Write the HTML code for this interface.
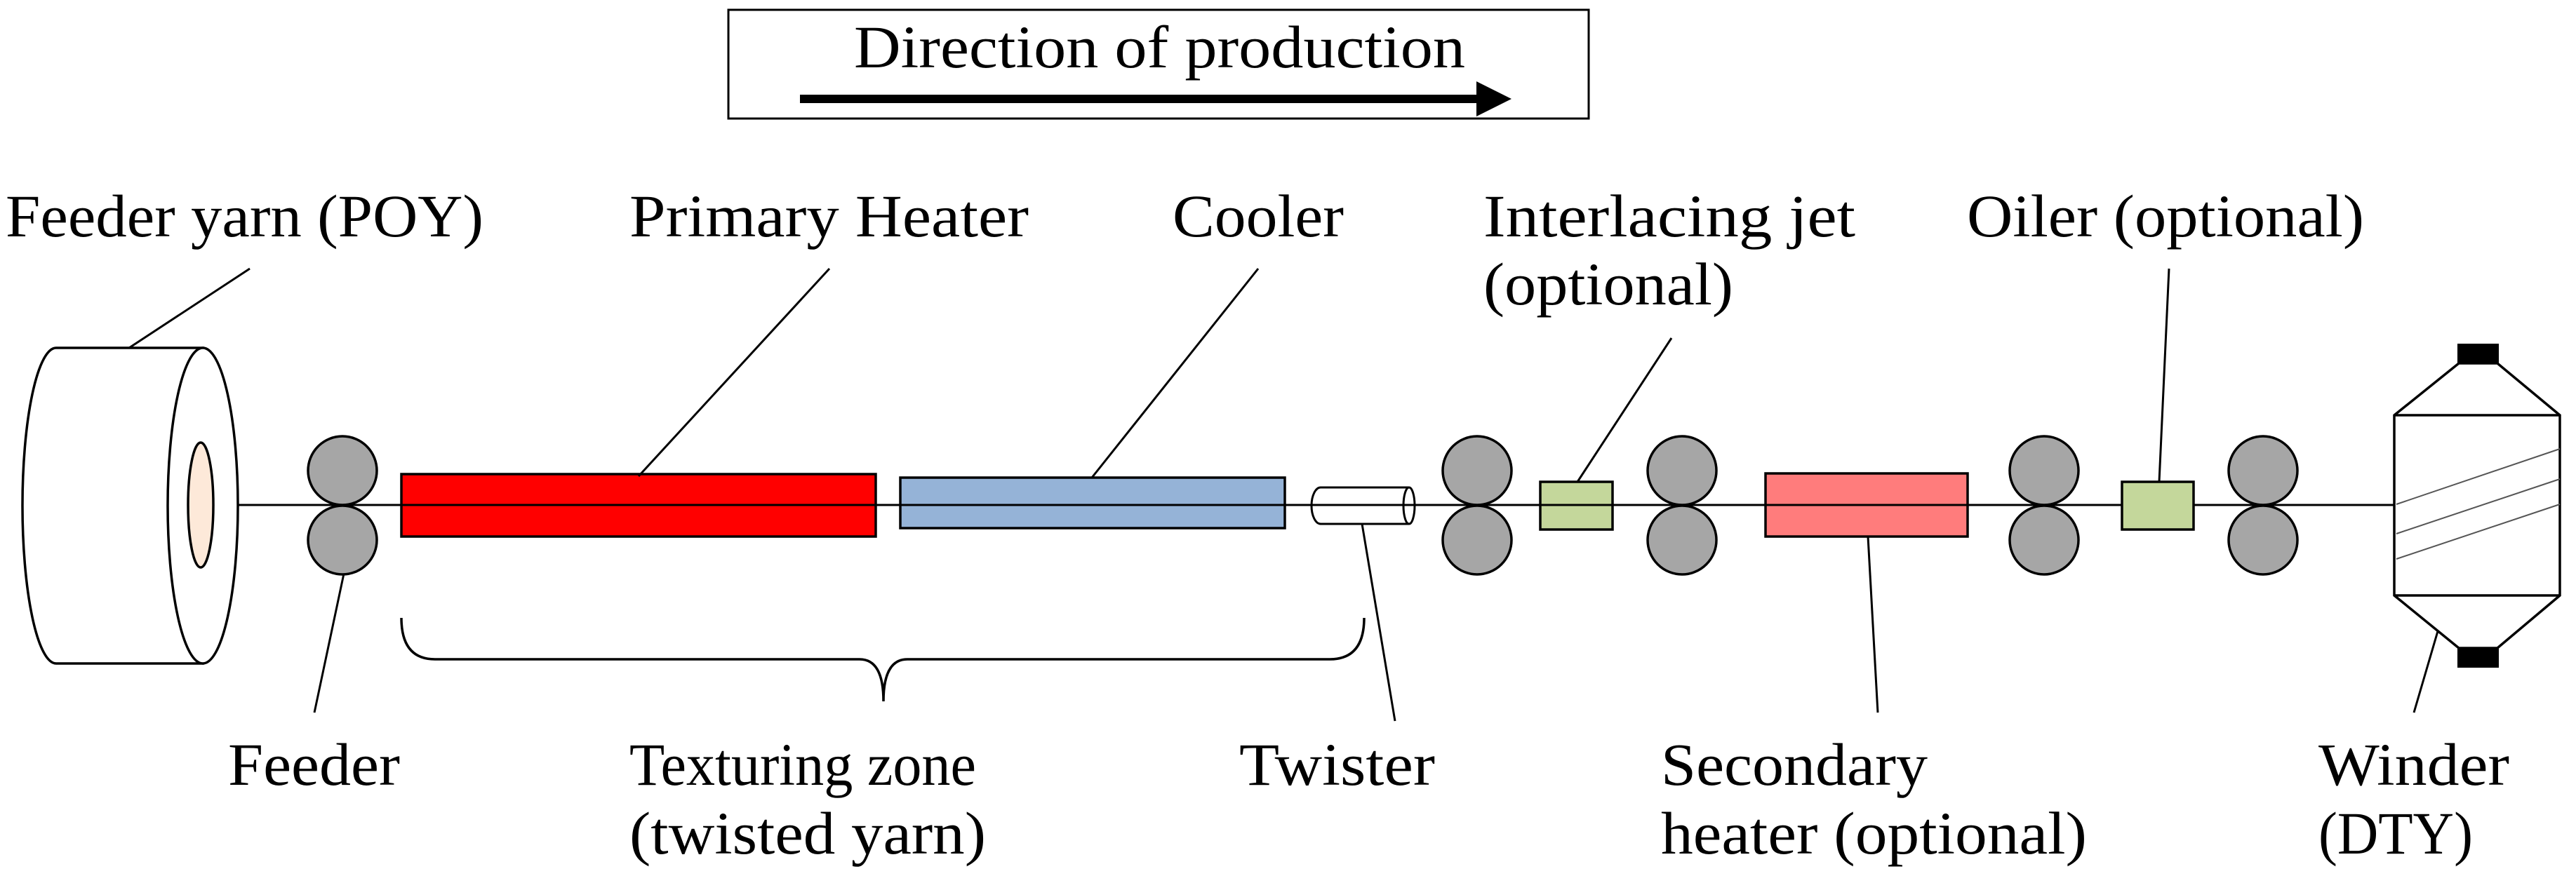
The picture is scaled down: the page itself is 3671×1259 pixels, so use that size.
<!DOCTYPE html>
<html><head><meta charset="utf-8"><style>
html,body{margin:0;padding:0;background:#fff;}
svg{display:block;}
text{font-family:"Liberation Serif",serif;font-size:86px;fill:#000;}
</style></head><body>
<svg width="3671" height="1259" viewBox="0 0 3671 1259" xmlns="http://www.w3.org/2000/svg">
<g stroke="#000" stroke-width="3" fill="none">
<rect x="1038" y="14" width="1226" height="155" fill="#fff"/>
</g>
<text x="1217" y="96" textLength="871" lengthAdjust="spacingAndGlyphs">Direction of production</text>
<line x1="1140" y1="141" x2="2108" y2="141" stroke="#000" stroke-width="12"/>
<polygon points="2104,116 2154,141 2104,166" fill="#000"/>

<line x1="330" y1="720" x2="3412" y2="720" stroke="#000" stroke-width="3"/>

<g stroke="#000" stroke-width="3.5">
<path d="M80,496 A48,225 0 0 0 80,946 L289,946 L289,496 Z" fill="#fff"/>
<ellipse cx="289" cy="721" rx="50" ry="225" fill="#fff"/>
<ellipse cx="286" cy="720" rx="18" ry="89" fill="#fde9d9"/>
</g>

<g fill="#a6a6a6" stroke="#000" stroke-width="3.5">
<circle cx="488" cy="671" r="49"/><circle cx="488" cy="770" r="49"/>
<circle cx="2105" cy="671" r="49"/><circle cx="2105" cy="770" r="49"/>
<circle cx="2397" cy="671" r="49"/><circle cx="2397" cy="770" r="49"/>
<circle cx="2913" cy="671" r="49"/><circle cx="2913" cy="770" r="49"/>
<circle cx="3225" cy="671" r="49"/><circle cx="3225" cy="770" r="49"/>
</g>

<g stroke="#000" stroke-width="3.5">
<rect x="572" y="676" width="676" height="89" fill="#ff0000"/>
<rect x="1283" y="681" width="548" height="72" fill="#95b3d7"/>
<rect x="2195" y="687" width="103" height="68" fill="#c4d79b"/>
<rect x="2516" y="675" width="288" height="90" fill="#ff7c7c"/>
<rect x="3024" y="687" width="102" height="68" fill="#c4d79b"/>
</g>
<line x1="572" y1="720" x2="2804" y2="720" stroke="#000" stroke-width="3"/>

<g stroke="#000" stroke-width="3">
<path d="M2008,695 L1882,695 A13,26 0 0 0 1882,747 L2008,747" fill="#fff"/>
<ellipse cx="2008" cy="721" rx="8" ry="26" fill="#fff"/>
<line x1="1869" y1="720" x2="2100" y2="720"/>
</g>

<g stroke="#000" stroke-width="3.5" fill="#fff">
<polygon points="3412,592 3504,518 3559,518 3648,592 3648,849 3559,924 3504,924 3412,849"/>
<line x1="3412" y1="592" x2="3648" y2="592"/>
<line x1="3412" y1="849" x2="3648" y2="849"/>
</g>
<g stroke="#555" stroke-width="2">
<line x1="3415" y1="719" x2="3648" y2="640"/>
<line x1="3415" y1="761" x2="3648" y2="683"/>
<line x1="3415" y1="797" x2="3648" y2="719"/>
</g>
<rect x="3502" y="490" width="59" height="28" fill="#000"/>
<rect x="3502" y="924" width="59" height="28" fill="#000"/>

<path d="M572,881 Q572,940 620,940 L1225,940 Q1259,940 1259,1000 Q1259,940 1293,940 L1895,940 Q1944,940 1944,881" fill="none" stroke="#000" stroke-width="3.5"/>

<g stroke="#000" stroke-width="3">
<line x1="184" y1="496" x2="356" y2="383"/>
<line x1="490" y1="818" x2="448" y2="1016"/>
<line x1="910" y1="679" x2="1182" y2="383"/>
<line x1="1556" y1="681" x2="1793" y2="383"/>
<line x1="1941" y1="747" x2="1988" y2="1028"/>
<line x1="2248" y1="687" x2="2382" y2="482"/>
<line x1="2662" y1="765" x2="2676" y2="1016"/>
<line x1="3077" y1="687" x2="3091" y2="383"/>
<line x1="3474" y1="900" x2="3440" y2="1016"/>
</g>

<text x="8" y="337" textLength="681" lengthAdjust="spacingAndGlyphs">Feeder yarn (POY)</text>
<text x="897" y="337" textLength="569" lengthAdjust="spacingAndGlyphs">Primary Heater</text>
<text x="1671" y="337" textLength="244" lengthAdjust="spacingAndGlyphs">Cooler</text>
<text x="2114" y="337" textLength="530" lengthAdjust="spacingAndGlyphs">Interlacing jet</text>
<text x="2114" y="434" textLength="356" lengthAdjust="spacingAndGlyphs">(optional)</text>
<text x="2803" y="337" textLength="566" lengthAdjust="spacingAndGlyphs">Oiler (optional)</text>
<text x="325" y="1119" textLength="245" lengthAdjust="spacingAndGlyphs">Feeder</text>
<text x="897" y="1119" textLength="494" lengthAdjust="spacingAndGlyphs">Texturing zone</text>
<text x="897" y="1217" textLength="508" lengthAdjust="spacingAndGlyphs">(twisted yarn)</text>
<text x="1766" y="1119" textLength="279" lengthAdjust="spacingAndGlyphs">Twister</text>
<text x="2367" y="1119" textLength="380" lengthAdjust="spacingAndGlyphs">Secondary</text>
<text x="2367" y="1217" textLength="607" lengthAdjust="spacingAndGlyphs">heater (optional)</text>
<text x="3304" y="1119" textLength="272" lengthAdjust="spacingAndGlyphs">Winder</text>
<text x="3304" y="1217" textLength="220" lengthAdjust="spacingAndGlyphs">(DTY)</text>
</svg>
</body></html>
